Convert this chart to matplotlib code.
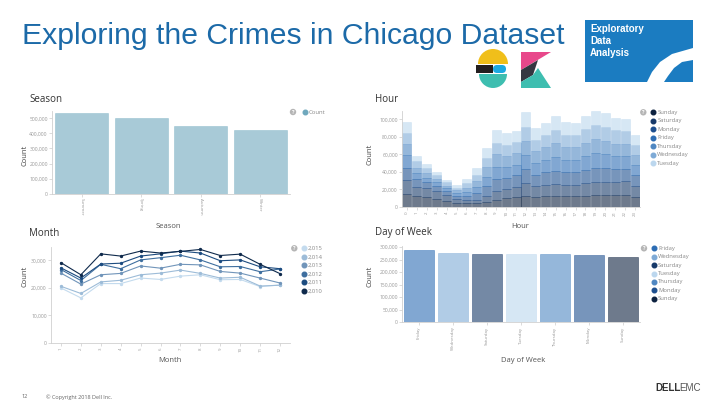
import matplotlib
matplotlib.use("Agg")
import matplotlib.pyplot as plt
from matplotlib import patches
from matplotlib.ticker import FuncFormatter

# ---- data -------------------------------------------------------------
seasons = ["Summer", "Spring", "Autumn", "Winter"]
season_counts = [533000, 502000, 449000, 424000]

hours = list(range(24))
# stacked hour counts (thousands), bottom to top
hour_days = ["Sunday", "Saturday", "Monday", "Friday", "Thursday", "Wednesday", "Tuesday"]
hour_sunday = [15, 12.5, 11, 9.5, 7, 5, 4, 4, 5.5, 8.5, 10, 11, 13, 11, 12, 12.5, 12, 12, 13, 14, 14, 13.5, 14, 11]
hour_saturday = [16, 10.5, 11, 9, 7, 4.5, 4, 4.5, 6.5, 9.5, 11, 12, 14, 12.5, 13, 13.5, 13, 13, 14, 15, 15, 15, 15.5, 13.5]
hour_monday = [14, 9.5, 6, 5, 4, 3.5, 5, 7.5, 11.5, 14, 12.5, 13, 16, 13.5, 14.5, 15.5, 14.5, 14.5, 15.5, 16, 15.5, 14.5, 14, 11.5]
hour_friday = [14, 6.5, 5.5, 4.5, 3.5, 3, 4.5, 7, 11, 14, 12.5, 12.5, 16, 13, 14, 15.5, 14.5, 14, 15.5, 16.5, 15.5, 15, 14.5, 12]
hour_thursday = [12.5, 6, 5, 4, 3, 3, 4.5, 7, 11, 14, 12.5, 13, 16, 13.5, 14.5, 16, 14.5, 14.5, 15.5, 16, 15.5, 14.5, 14.5, 11]
hour_wednesday = [13, 7, 5.5, 4, 3.5, 3, 5, 7, 10.5, 13.5, 12.5, 12.5, 16.5, 13, 14, 15.5, 14, 14, 15.5, 16.5, 16, 15, 14, 11.5]
hour_tuesday = [12.5, 6, 5, 4, 3, 3, 5, 7, 11, 14, 13, 13, 16.5, 13.5, 14.5, 16, 14.5, 14.5, 15.5, 16, 15.5, 14.5, 14.5, 11.5]

months = list(range(1, 13))
years = ["2,015", "2,014", "2,013", "2,012", "2,011", "2,010"]
m2015 = [20.0, 16.4, 21.6, 21.6, 23.6, 23.1, 24.3, 24.8, 23.0, 23.1, 20.5, 21.1]
m2014 = [20.6, 18.0, 22.2, 22.8, 24.8, 25.4, 26.5, 25.3, 23.6, 23.9, 20.7, 21.0]
m2013 = [25.4, 21.4, 24.8, 25.3, 28.0, 27.2, 28.6, 28.4, 26.0, 25.4, 23.6, 21.8]
m2012 = [26.7, 22.7, 28.6, 27.0, 30.2, 31.0, 31.9, 30.2, 27.7, 27.8, 25.9, 26.9]
m2011 = [27.3, 23.6, 28.7, 29.0, 31.6, 32.4, 33.4, 32.7, 29.9, 30.2, 27.7, 27.0]
m2010 = [29.2, 24.8, 32.4, 31.6, 33.4, 32.7, 33.3, 34.0, 31.8, 32.3, 28.6, 25.2]

week_days = ["Friday", "Wednesday", "Saturday", "Tuesday", "Thursday", "Monday", "Sunday"]
week_counts = [289000, 274000, 273000, 272500, 272000, 268000, 260000]

# ---- styling ----------------------------------------------------------
day_colors = {"Sunday": "#0d2240", "Saturday": "#173a6a", "Monday": "#1d4f8f",
              "Friday": "#2d6db4", "Thursday": "#4f87c2", "Wednesday": "#7eaad6",
              "Tuesday": "#bcd7ee"}
year_colors = ["#c4dbee", "#9dbcd8", "#7195ba", "#3f6f9f", "#1d4c80", "#0f2a4c"]
season_color = "#6fa8bd"
FONT = "Open Sans"
TICK = "#999999"
W, H = 720, 405

plt.rcParams["font.family"] = [FONT, "DejaVu Sans"]
fig = plt.figure(figsize=(7.2, 4.05), dpi=100)

bg = fig.add_axes([0, 0, 1, 1], zorder=-1)
bg.set_xlim(0, W)
bg.set_ylim(H, 0)
bg.axis("off")


def make_axes(x0, x1, y_top, y_bottom):
    ax = fig.add_axes([x0 / W, 1 - y_bottom / H, (x1 - x0) / W, (y_bottom - y_top) / H])
    for s in ("top", "right"):
        ax.spines[s].set_visible(False)
    for s in ("left", "bottom"):
        ax.spines[s].set_color("#d0d0d0")
        ax.spines[s].set_linewidth(0.6)
    ax.tick_params(colors="#cccccc", labelcolor=TICK, labelsize=3.6, length=2, width=0.5, pad=1)
    ax.patch.set_alpha(0)
    return ax


comma = FuncFormatter(lambda v, p: f"{int(v):,}")


def help_icon(x, y):
    bg.add_patch(patches.Circle((x, y), 3.2, color="#b5b5b5", lw=0))
    bg.text(x, y + 0.3, "?", color="white", fontsize=3.8, ha="center", va="center", fontweight="bold")


def legend(x, y0, dy, labels, colors, alpha=1.0):
    for i, (lab, c) in enumerate(zip(labels, colors)):
        bg.plot(x, y0 + i * dy, "o", ms=3.3, color=c, mec=c, alpha=alpha)
        bg.text(x + 4, y0 + i * dy, lab, fontsize=4.2, color="#888888", va="center")


# ---- Season -----------------------------------------------------------
ax1 = make_axes(52, 290, 110.7, 193.7)
ax1.bar(range(len(seasons)), season_counts, width=0.89, color=season_color, alpha=0.6,
        edgecolor=season_color, linewidth=0.4)
ax1.set_xlim(-0.5, len(seasons) - 0.5)
ax1.set_ylim(0, 550000)
ax1.set_yticks(range(0, 500001, 100000))
ax1.yaxis.set_major_formatter(comma)
ax1.set_xticks(range(len(seasons)))
ax1.set_xticklabels(seasons, rotation=-90, fontsize=3.2)
help_icon(293, 112)
legend(305, 112, 0, ["Count"], [season_color])

# ---- Hour -------------------------------------------------------------
ax2 = make_axes(402, 640, 110.7, 207)
stack = [hour_sunday, hour_saturday, hour_monday, hour_friday, hour_thursday, hour_wednesday, hour_tuesday]
bottom = [0] * 24
for day, vals in zip(hour_days, stack):
    v = [x * 1000 for x in vals]
    ax2.bar(hours, v, bottom=bottom, width=0.9, color=day_colors[day], alpha=0.6,
            edgecolor=day_colors[day], linewidth=0.4)
    bottom = [b + x for b, x in zip(bottom, v)]
ax2.set_xlim(-0.5, 23.5)
ax2.set_ylim(0, 110000)
ax2.set_yticks(range(0, 100001, 20000))
ax2.yaxis.set_major_formatter(comma)
ax2.set_xticks(hours)
ax2.set_xticklabels([str(h) for h in hours], rotation=90, fontsize=3.2)
help_icon(643.3, 112.3)
legend(653.3, 112.3, 8.5, hour_days, [day_colors[d] for d in hour_days])

# ---- Month ------------------------------------------------------------
ax3 = make_axes(51, 290, 246.7, 343)
for vals, c in zip([m2015, m2014, m2013, m2012, m2011, m2010], year_colors):
    ax3.plot(months, [v * 1000 for v in vals], color=c, lw=0.8, marker="o", ms=1.4, mec=c)
ax3.set_xlim(0.5, 12.5)
ax3.set_ylim(0, 35000)
ax3.set_yticks(range(0, 30001, 10000))
ax3.yaxis.set_major_formatter(comma)
ax3.set_xticks(months)
ax3.set_xticklabels([str(m) for m in months], rotation=90, fontsize=3.2)
help_icon(294.3, 248.3)
legend(304, 248.3, 8.5, years, year_colors)

# ---- Day of Week ------------------------------------------------------
ax4 = make_axes(402, 640, 245.7, 322.3)
ax4.bar(range(len(week_days)), week_counts, width=0.91,
        color=[day_colors[d] for d in week_days], alpha=0.6,
        edgecolor=[day_colors[d] for d in week_days], linewidth=0.5)
ax4.set_xlim(-0.5, len(week_days) - 0.5)
ax4.set_ylim(0, 305000)
ax4.set_yticks(range(0, 300001, 50000))
ax4.yaxis.set_major_formatter(comma)
ax4.set_xticks(range(len(week_days)))
ax4.set_xticklabels(week_days, rotation=90, fontsize=3.2)
help_icon(644, 248.3)
legend(654, 248.3, 8.4, week_days, [day_colors[d] for d in week_days])

# ---- panel labels -----------------------------------------------------
for x, y, t in [(29, 100, "Season"), (375, 100, "Hour"), (29, 233, "Month"), (375, 233, "Day of Week")]:
    bg.text(x, y, t, fontsize=7, color="#333333", va="center")
for x, y, t in [(168, 226, "Season"), (520, 227, "Hour"), (170, 361, "Month"), (523, 361, "Day of Week")]:
    bg.text(x, y, t, fontsize=5.5, color="#555555", ha="center", va="center")
for x, y in [(25, 155), (370, 154), (25, 276), (370, 276)]:
    bg.text(x, y, "Count", fontsize=5.5, color="#444444", rotation=90, ha="center", va="center")

# ---- header -----------------------------------------------------------
bg.text(22, 36, "Exploring the Crimes in Chicago Dataset", fontsize=21.7, color="#1c6aa8",
        family="Liberation Sans", va="center")

# elastic logo
bg.add_patch(patches.Wedge((493, 64), 15, 180, 360, color="#f0bf1a", lw=0))
bg.add_patch(patches.Rectangle((476, 65), 17, 8, color="#231f20", lw=0))
bg.add_patch(patches.FancyBboxPatch((493, 65), 13, 8, boxstyle="round,pad=0,rounding_size=4",
                                    color="#1ba9e1", lw=0))
bg.add_patch(patches.Wedge((493, 74), 14, 0, 180, color="#3ebeb0", lw=0))
# kibana logo
bg.add_patch(patches.Polygon([(521, 52), (551, 52), (521, 70)], color="#e8488b", lw=0))
bg.add_patch(patches.Polygon([(521, 70), (538, 60), (533, 75), (521, 82)], color="#343741", lw=0))
bg.add_patch(patches.Polygon([(521, 82), (533, 75), (538, 68), (551, 88), (521, 88)],
                             color="#3ebeb0", lw=0))

# EDA badge
bg.add_patch(patches.Rectangle((585, 20), 108, 62, color="#1b7cc1", lw=0))
for y, t in [(29, "Exploratory"), (41, "Data"), (53, "Analysis")]:
    bg.text(590, y, t, fontsize=7, color="white", fontweight="bold",
            family="Liberation Sans", va="center")
bg.add_patch(patches.Polygon([(647, 82), (652, 72), (660, 62), (672, 54), (693, 48),
                              (693, 60), (682, 62), (674, 68), (668, 76), (664, 82)],
                             color="white", lw=0))

# footer
bg.text(21, 397, "12", fontsize=4, color="#666666", va="center")
bg.text(46, 397, "\u00a9 Copyright 2018 Dell Inc.", fontsize=4, color="#666666", va="center")
bg.text(655, 388, "DELL", fontsize=7, color="#333333", fontweight="bold",
        family="Liberation Sans", va="center")
bg.text(679, 388, "EMC", fontsize=7, color="#555555", family="Liberation Sans", va="center")

fig.savefig("out.png", dpi=100)
